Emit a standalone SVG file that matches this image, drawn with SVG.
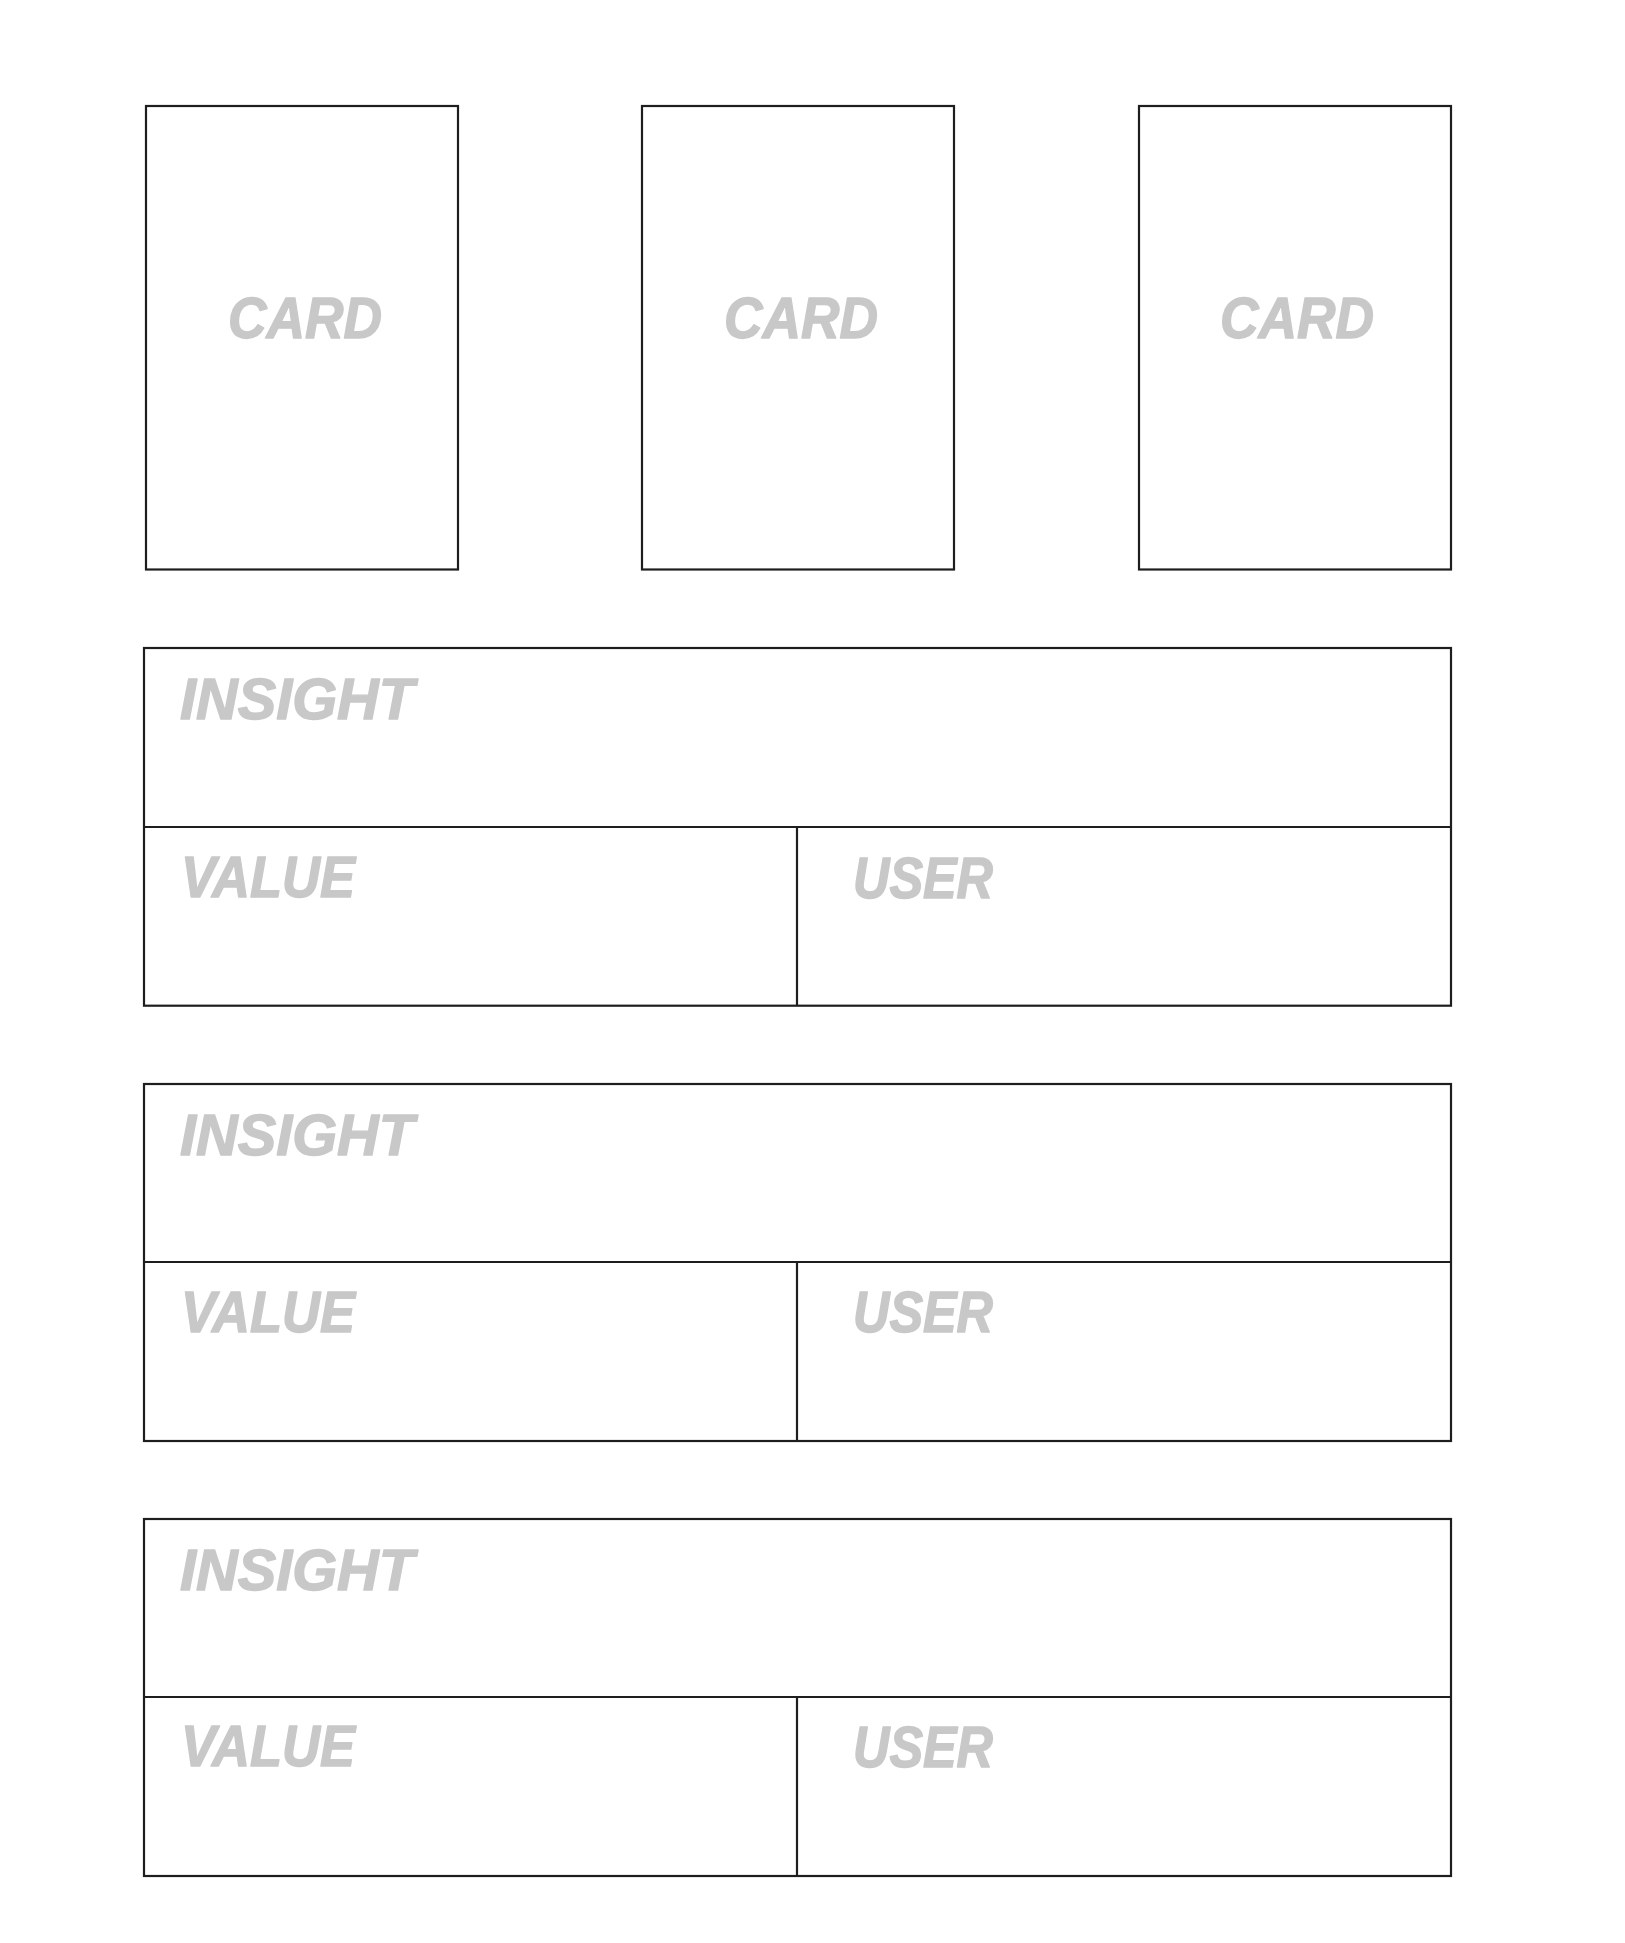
<svg xmlns="http://www.w3.org/2000/svg" width="1625" height="1943" viewBox="0 0 1625 1943">
  <style>
    .box { fill: #ffffff; stroke: #1e1e1e; stroke-width: 2.2; }
    .div { stroke: #1e1e1e; stroke-width: 2.2; fill: none; }
    .lbl { font-family: "Liberation Sans", Arial, sans-serif; font-weight: bold; font-style: italic; font-size: 57px; fill: #c8c8c8; stroke: #c8c8c8; stroke-width: 1.4; stroke-linejoin: round; }
  </style>
  <rect width="1625" height="1943" fill="#ffffff"/>
  <g id="card1">
    <rect class="box" x="146" y="106" width="312" height="463.5"/>
    <text class="lbl" x="305" y="338.3" text-anchor="middle" textLength="154" lengthAdjust="spacingAndGlyphs">CARD</text>
  </g>
  <g id="card2">
    <rect class="box" x="642" y="106" width="312" height="463.5"/>
    <text class="lbl" x="801" y="338.3" text-anchor="middle" textLength="154" lengthAdjust="spacingAndGlyphs">CARD</text>
  </g>
  <g id="card3">
    <rect class="box" x="1139" y="106" width="312" height="463.5"/>
    <text class="lbl" x="1297" y="338.3" text-anchor="middle" textLength="154" lengthAdjust="spacingAndGlyphs">CARD</text>
  </g>
  <g id="panel1">
    <rect class="box" x="144" y="648" width="1307" height="357.7"/>
    <line class="div" x1="144" y1="827" x2="1451" y2="827"/>
    <line class="div" x1="797" y1="827" x2="797" y2="1005.7"/>
    <text class="lbl" x="180" y="719.3" textLength="234" lengthAdjust="spacingAndGlyphs">INSIGHT</text>
    <text class="lbl" x="181" y="897.3" textLength="174" lengthAdjust="spacingAndGlyphs">VALUE</text>
    <text class="lbl" x="853" y="897.7" textLength="140" lengthAdjust="spacingAndGlyphs">USER</text>
  </g>
  <g id="panel2">
    <rect class="box" x="144" y="1084" width="1307" height="357"/>
    <line class="div" x1="144" y1="1262" x2="1451" y2="1262"/>
    <line class="div" x1="797" y1="1262" x2="797" y2="1441"/>
    <text class="lbl" x="180" y="1155" textLength="234" lengthAdjust="spacingAndGlyphs">INSIGHT</text>
    <text class="lbl" x="181" y="1331.7" textLength="174" lengthAdjust="spacingAndGlyphs">VALUE</text>
    <text class="lbl" x="853" y="1332.3" textLength="140" lengthAdjust="spacingAndGlyphs">USER</text>
  </g>
  <g id="panel3">
    <rect class="box" x="144" y="1519" width="1307" height="357"/>
    <line class="div" x1="144" y1="1697" x2="1451" y2="1697"/>
    <line class="div" x1="797" y1="1697" x2="797" y2="1876"/>
    <text class="lbl" x="180" y="1590" textLength="234" lengthAdjust="spacingAndGlyphs">INSIGHT</text>
    <text class="lbl" x="181" y="1766.3" textLength="174" lengthAdjust="spacingAndGlyphs">VALUE</text>
    <text class="lbl" x="853" y="1766.7" textLength="140" lengthAdjust="spacingAndGlyphs">USER</text>
  </g>
  <g id="connectors"></g>
</svg>
